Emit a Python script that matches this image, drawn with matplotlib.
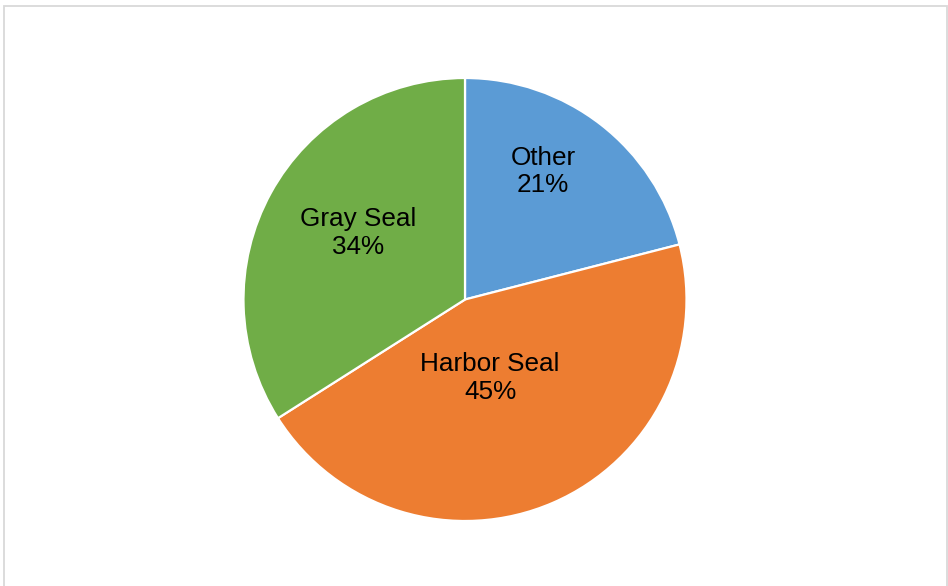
import matplotlib
matplotlib.use("Agg")
import matplotlib.pyplot as plt
from matplotlib.patches import Rectangle

plt.rcParams['font.family'] = ['Liberation Sans', 'DejaVu Sans']

# seal share of observations
names = ['Other', 'Harbor Seal', 'Gray Seal']
shares = [21, 45, 34]
colors = ['#5B9BD5', '#ED7D31', '#70AD47']

# label placement inside each wedge (pie units, radius = 1)
label_xy = [(0.352, 0.578), (0.113, -0.354), (-0.481, 0.300)]

fig = plt.figure(figsize=(9.48, 5.86), dpi=100)
fig.patch.set_facecolor('white')

# light grey chart-area frame
fig.patches.append(Rectangle((3.5 / 948, -0.02), 943 / 948, (586 - 5.5) / 586 + 0.02,
                             transform=fig.transFigure, fill=False,
                             edgecolor='#d9d9d9', linewidth=1.3))

w = 443 / 948
h = 443 / 586
cx, cy = 465 / 948, (586 - 299.5) / 586
ax = fig.add_axes([cx - w / 2, cy - h / 2, w, h])

ax.pie(shares, colors=colors, startangle=90, counterclock=False, radius=1,
       wedgeprops=dict(edgecolor='white', linewidth=1.6))

for name, val, (x, y) in zip(names, shares, label_xy):
    ax.text(x, y, f"{name}\n{val}%", ha='center', va='center',
            fontsize=18.8, color='black', linespacing=1.2)

ax.set_xlim(-1, 1)
ax.set_ylim(-1, 1)
ax.set_aspect('equal')
ax.axis('off')

fig.savefig('out.png', dpi=100)
